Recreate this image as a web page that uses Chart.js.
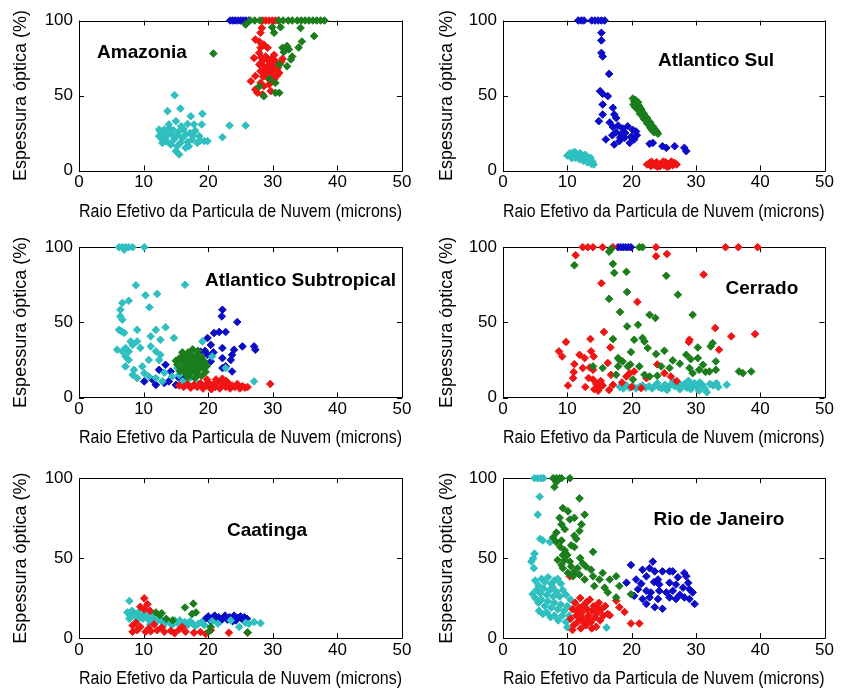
<!DOCTYPE html>
<html><head><meta charset="utf-8">
<script src="https://cdn.jsdelivr.net/npm/chart.js@4/dist/chart.umd.min.js"></script>
<style>
body{margin:0;background:#fff;width:852px;height:693px;position:relative;overflow:hidden}
canvas{position:absolute}
</style>
</head><body>
<canvas id="c0" width="426" height="231" style="left:0;top:0"></canvas>
<canvas id="c1" width="426" height="231" style="left:426px;top:0"></canvas>
<canvas id="c2" width="426" height="231" style="left:0;top:231px"></canvas>
<canvas id="c3" width="426" height="231" style="left:426px;top:231px"></canvas>
<canvas id="c4" width="426" height="231" style="left:0;top:462px"></canvas>
<canvas id="c5" width="426" height="231" style="left:426px;top:462px"></canvas>
<script>
const xTicks = [0, 10, 20, 30, 40, 50];
const yTicks = [0, 50, 100];
const xTitle = 'Raio Efetivo da Particula de Nuvem (microns)';
const yTitle = 'Espessura óptica (%)';
const regions = ['Amazonia', 'Atlantico Sul', 'Atlantico Subtropical', 'Cerrado', 'Caatinga', 'Rio de Janeiro'];

// ---------- Amazonia ----------
const amazoniaBlue = [[23.4,100],[23.8,100],[24.2,100],[24.6,100],[25.0,100],[25.4,100],[25.8,100],[26.3,100]];
const amazoniaGreen = [[26.5,100],[27.2,100],[28.0,100],[30.9,100],[31.6,100],[32.4,100],[33.0,100],[33.8,100],[34.4,100],[35.0,100],[35.6,100],[36.2,100],[36.8,100],[37.4,100],[38.0,100],
 [20.8,78],[25.8,97.3],[29.9,95.5],[31.2,95.5],[34.3,95],[36.4,89.6],[30.2,91.8],[31.5,81.8],[32.2,83],[32.5,80.7],[34,82],[34.5,86],[31.7,79],[33,76],[32.8,74],[32.2,69.5],[31,70.7],[30.4,58.4],[31,51.8],[27.9,56],[28.6,49.5],[30.4,51.8],[29.5,61]];
const amazoniaRed = [[28.4,100],[28.9,100],[29.4,100],[29.9,100],[30.4,100],[30.9,100],
 [28.3,95],[28.1,91.8],[27.3,87.3],[27.9,86],[28.6,84],[28.1,81.8],[29.2,81.8],[27.9,78.4],[27.1,75],[28.9,76],[29.9,75],[28.4,73],[29.4,73],[30.4,73],[31,70.7],[27.9,70.7],[28.6,69.5],[29.7,68.4],[30.4,67.3],[28.1,66.2],[28.9,65],[29.9,64],[31,65],[29.2,61.8],[30.2,60.7],[27.3,63],[26.6,59.5],[28.1,58.4],[29.4,57.3],[27.3,54],[27.6,51.8],[28.4,50.7],[29.7,52.9],[28.6,56.2],[29.3,70],[30,71],[29.6,66],[30.8,68.5],[28.5,62.5],[29.8,59],[31.3,72.5],[30.6,63],[29,67.5],[28.2,75.5],[30.2,77],[31.5,74.5]];
const amazoniaCyan = [[14.8,50.2],[13.7,39.6],[15.7,41.3],[17.3,36.2],[19.1,37.8],[19,30.7],[17.8,30.7],[16.8,31],[23.3,30],[25.8,30],[22.2,22.2],[19.9,19.6],[12.6,26.2],[13.2,27.3],[13.9,30.7],[15,32.9],[12.4,22.9],[13.4,21.8],[14.4,24],[15.5,26.2],[16,21.8],[16.5,24],[17.5,20.7],[18.6,22.9],[19.4,19.6],[12.9,18.4],[14.2,17.3],[15.2,16.2],[16.5,15.1],[15.5,10.7],[15,12.9],[17,16.2],[18.3,18.4],[13.7,24],[14.7,20.7],[15.7,18.4],[12.4,27.3],[13,24.5],[14,28],[15.2,23.5],[16.2,27.5],[17.2,25],[18,26.5],[14.6,26.8],[13.5,19.5],[16.8,19],[18.8,20],[12.8,21],[15.8,29.5],[17.6,23]];

// ---------- Atlantico Sul ----------
const atlSulBlue = [[11.7,100],[12.2,100],[12.6,100],[13.8,100],[14.3,100],[14.8,100],[15.3,100],[15.8,100],
 [15.3,91.8],[15.3,86.7],[15.3,78.4],[15.5,76],[16.5,64.4],[15.1,52.9],[15.5,51.1],[16.3,49.6],[15.5,44],[15.5,37.3],[14.9,32.9],[17.1,41.8],[17.3,37.3],[17.6,35],[16.6,32],[17.1,29],[17.9,30],[18.6,28],[19.4,29.5],[20.2,27],[20.7,26],[16,20.7],[17.3,17.3],[18.1,19.6],[18.9,21.8],[19.7,18.4],[20.4,20.7],[18.4,24],[17.6,25.5],[19,25],[19.9,22.5],[18.2,22],[17,23.5],[20.8,23.5],[22.8,17.8],[23.3,18.4],[24.8,16.2],[25.4,15.1],[26.7,16.2],[28.2,15.1],[28.5,12.9]];
const atlSulGreen = [[20.2,48],[20.4,46],[20.6,47],[20.3,44],[20.7,44.5],[21,45.5],[20.8,42],[21.2,43],[21.5,41],[21.1,40],[21.6,39.5],[21.9,38],[21.4,37.5],[22.1,36],[22.4,35],[21.9,34.5],[22.6,33],[22.9,32],[22.4,31.5],[23.1,30],[23.4,29],[22.9,28.5],[23.6,27.5],[23.9,26],[23.5,25.5],[24.1,24.5],[20.5,42.5],[21.3,38],[22.2,33.5],[23.2,27]];
const atlSulRed = [[22.4,4],[22.8,5],[23.0,3],[23.3,4.5],[23.6,3.5],[23.9,5.5],[24.2,4],[24.4,2.8],[24.7,5],[25.0,3.5],[25.3,5.5],[25.6,4],[25.8,2.8],[26.1,5],[26.4,3.5],[26.7,5],[27.0,4],[23.1,5.8],[24.9,6],[26.2,6],[24.0,2.5],[25.5,2.5]];
const atlSulCyan = [[10.0,10],[10.4,11.5],[10.6,9.5],[10.9,12],[11.0,10.5],[11.3,8.5],[11.5,11],[11.7,9.5],[11.9,7.5],[12.1,10],[12.3,8.5],[12.5,6.5],[12.7,9],[12.9,7.5],[13.1,5.5],[13.3,8],[13.5,6.5],[13.7,4.5],[13.9,6],[14.1,4],[11.2,12.2],[12.0,11.5],[12.8,10.5],[13.6,8.5],[10.7,8.2]];

// ---------- Atlantico Subtropical ----------
const atlSubBlue = [[22.2,58.4],[22.1,54],[24.5,50.2],[20.9,42.9],[21.7,43.6],[22.7,43.6],[19.9,39.6],[20.4,35],[22.2,32.9],[24,31.8],[25.3,34],[27.1,34],[27.3,31.8],[22.2,26.2],[23.7,28.4],[23.5,25],[22.2,19.6],[22.7,20.7],[23.7,17.3],[20.4,24],[19.9,28.4],[13.4,21.8],[14.2,17.3],[12.4,18.4],[11.4,11.8],[10.1,10.7],[11.9,8.4],[13.2,9.6],[13.9,10.7],[15,8.4],[15.5,12.9],[16.5,14],[19.5,31],[20.8,30],[18.8,30.5]];
const atlSubGreen = [[15.2,22],[15.5,26],[15.8,19],[16,24],[16.2,28],[16.3,17],[16.5,21],[16.7,25],[16.9,30],[17,15],[17.2,19],[17.3,23],[17.5,27],[17.6,32],[17.8,17],[18,21],[18.1,25],[18.3,29],[18.5,15],[18.6,19],[18.8,23],[19,27],[19.2,20],[19.4,24],[19.6,17],[16,30],[17.1,29],[18.4,31],[15.6,17.5],[16.8,13.5],[17.9,13],[19,14.5],[19.8,21],[15,24.5],[16.6,18],[17.7,26],[18.7,26.5],[17.4,17.5],[16.4,26.5],[18.2,18]];
const atlSubRed = [[15.5,8],[16.2,7],[16.8,9],[17.3,6.5],[17.8,8.5],[18.3,7],[18.8,9.5],[19.2,6],[19.6,8],[20,10],[20.3,6.5],[20.7,8.5],[21.1,7],[21.5,10.5],[21.8,6],[22.2,12.5],[22.3,8.5],[22.7,7],[23,10],[23.4,6],[23.7,8],[24.1,7],[24.5,9],[24.9,6],[25.3,7.5],[25.7,6.5],[26.1,7],[29.6,9],[20.5,5.5],[21.2,12],[19.8,12],[22.8,11]];
const atlSubCyan = [[6.2,100],[6.7,100],[7.2,100],[7.7,100],[8.3,100],[10.1,100],[7,98.4],[16.4,75],[8.8,74.7],[10.3,68],[12.1,68.9],[10.9,60],[6.7,62.9],[7.7,64.4],[6.4,58.4],[6.4,54],[6.7,51.8],[6.2,45],[6.6,44],[7,43],[9,45],[11.1,40.7],[11.9,45],[12.6,38.4],[13.4,46.7],[14.7,39.6],[8,37.3],[8.3,35],[9,37.3],[7.2,32.9],[7.7,30.7],[6.7,30.7],[5.9,31.8],[7.2,27.3],[7.7,25],[11.1,34],[11.9,30.7],[12.6,28.4],[10.8,25],[12.4,25],[7.2,20.7],[8.5,18.4],[8.3,15.1],[9,12.9],[10.1,16.2],[10.8,14],[11.9,12.9],[12.9,10.7],[14.4,14],[16,10.7],[16.5,8.4],[15.5,15.1],[19.1,37.3],[20.6,27.3],[22.7,19.6],[27.1,10.7],[15.2,19.6],[9.8,20.7],[18.3,9.6],[9.5,33],[13.2,16.5],[17.2,13]];

// ---------- Cerrado ----------
const cerradoBlue = [[17.9,100],[18.3,100],[18.7,100],[19.1,100],[19.5,100],[19.9,100]];
const cerradoGreen = [[16.8,99],[16.5,97],[21.2,100],[21.7,100],[11.1,88],[17.1,88.9],[17.3,82.9],[19.2,83.6],[25.4,81],[19.3,70.2],[16.5,65.6],[27.2,68.4],[18.2,56.9],[22.8,55],[23.7,52.9],[29.5,55],[21,48.4],[19.3,47.3],[17.1,38.9],[20.4,38.4],[21.7,39.6],[22,37.3],[22.5,32.9],[23.8,28.9],[25.1,31.1],[19.9,30.2],[26.4,24.7],[28.5,28.4],[30.3,33.3],[32.6,36.2],[32.3,34],[30.3,26.2],[31.1,21.8],[33.1,24],[18.1,25],[17.9,26.2],[18.6,24],[17.9,20.7],[19.4,20.7],[21.2,20.7],[15.5,19.6],[14,20.7],[17.6,15.1],[22,15.1],[22.8,14],[24.6,20.7],[25.9,19.6],[29,19.6],[29.5,16.2],[30.5,18.4],[32.1,17.3],[33.1,18.4],[36.7,17.3],[37.3,16.2],[38.6,17.3],[19.8,22],[27.5,22.5],[29.2,25.5],[31.5,17],[20.2,12],[24,14.5]];
const cerradoRed = [[12.4,100],[13.2,100],[14,100],[15.5,100],[17.1,100],[23.8,100],[34.6,100],[36.6,100],[39.6,100],[11.3,94.7],[23.8,94],[25.5,95.5],[31.2,81.8],[15.3,76],[20.9,63.6],[15.7,43.6],[33,46.2],[35.5,40.7],[39.2,42.2],[9.8,36.9],[13.6,38.9],[8.7,30.7],[9.2,27.3],[11.9,28.4],[12.7,26.2],[13.7,30.7],[14.1,27.3],[11.1,22.2],[12.4,19.6],[13.5,20],[14,18.4],[16.7,33.3],[16.3,23],[11,16.9],[10.9,12.9],[10.1,8],[14,12],[14.5,9],[15,6.5],[14.8,4.5],[15.5,8],[14.2,5.5],[15.2,11],[16.8,15.1],[17.1,8.4],[16.5,5],[19.2,14],[19.7,16.2],[20.4,17.3],[22.3,12.9],[25.1,16.2],[26.1,14],[29,38.4],[28.9,37],[33.6,31.8],[21.5,6.2],[13.3,13],[12.8,7],[18.5,10],[20,7],[24,22],[27,11]];
const cerradoCyan = [[18.2,7],[18.7,6],[19.2,8],[19.7,6.5],[20.2,7.5],[20.7,6],[21.2,7],[21.7,8],[22.2,6.5],[22.7,7.5],[23.2,6],[23.7,8],[24.2,7],[24.7,6],[25.2,8.5],[25.7,7],[26.2,9],[26.7,7.5],[27.2,10],[27.7,8],[28.2,9],[28.6,6.5],[29,10.5],[29.4,8],[29.8,9.5],[30.2,7],[30.6,10],[31,8.5],[31.4,6],[31.7,3.5],[32.2,9],[32.7,8],[33.2,9.5],[33.5,7],[34.8,8.5],[27.5,5.5],[26.5,11],[28.8,11],[30.5,4.5],[24,9.5],[25.5,5],[29.2,5.5]];

// ---------- Caatinga ----------
const caatingaBlue = [[19.6,12],[20,13.5],[20.3,11],[20.7,12.5],[21,14],[21.3,11.5],[21.6,13],[22,11],[22.3,12.5],[22.6,14],[23,11.5],[23.3,13],[23.6,12],[24,14],[24.3,11],[24.6,12.5],[25,13.5],[25.3,11.5],[25.6,13],[26,12],[21.8,10.5],[23.8,10.5]];
const caatingaGreen = [[16.4,19.1],[17.7,21.5],[17.5,15],[18.1,16],[11.9,16],[12.5,14.5],[13.5,12],[20.4,6.9],[20.1,4],[26.1,3.5],[14.5,11],[12.8,15.5]];
const caatingaRed = [[10.1,24.8],[10.6,21.1],[10.1,18],[9.5,19.5],[11,17],[8.3,3.9],[9,4.9],[10.3,3.9],[11.1,4.2],[12.1,4.9],[13.2,3.9],[14.2,4.5],[15.5,5.3],[16.5,3.9],[17.8,3.3],[18.8,3.8],[20.4,4.9],[23.2,3.3],[26.1,3.3],[8.3,7.9],[9.5,7],[12.8,6.5],[16,6.9],[11.6,8.5],[14.8,3],[19.6,2.5],[8.8,9.5],[10.8,6]];
const caatingaCyan = [[7.8,23.2],[7.5,16],[7.9,14],[8.2,17],[8.6,15],[8.9,13],[9.2,16],[9.6,14],[9.9,12],[10.2,15],[10.5,13],[10.9,11],[11.2,14],[11.6,12],[12,10],[12.4,12.5],[12.8,11],[13.2,9],[13.6,11.5],[14,10],[14.4,8],[14.8,11],[15.2,9.5],[15.6,11],[16,8.5],[16.4,10],[16.8,8],[17.2,10.5],[17.6,9],[18,7.5],[18.5,9],[19,10],[19.4,8],[20.6,10.5],[21.5,9],[23.5,11],[24.8,6.9],[26.3,8.9],[27.1,10],[28.1,9.3],[25.8,9.5],[7.8,12],[9,11],[11,8.5],[13,7.5]];

// ---------- Rio de Janeiro ----------
const rioBlue = [[19.9,45.7],[23.3,47.8],[21.7,42.7],[22.8,43.7],[23.6,41.7],[24.8,41.7],[25.9,41.7],[26.4,41.7],[28.2,40.7],[28.5,38.6],[19.2,34.6],[20.7,36.6],[22.3,38.6],[24.1,36.6],[24.3,33.5],[25.9,34.6],[26.9,33.5],[21,30.5],[22.3,29.5],[23,28.5],[24.3,29.5],[25.4,28.5],[26.4,29.5],[28,31.5],[29,30.5],[29.5,28.5],[20.4,26.4],[21.7,24.4],[22.8,25.4],[24.1,24.4],[25.9,25.4],[26.9,24.4],[28.2,25.4],[29,24.4],[29.8,21.3],[22.3,21.3],[23.6,19.3],[24.8,18.3],[23.5,35],[27.5,27],[21.5,34],[28.8,34.5],[27.2,38]];
const rioGreen = [[7.8,100],[8.3,100],[8.8,100],[9.1,100],[10.4,100],[8.3,97.6],[8,94.5],[11.9,87.4],[9.3,81.3],[10.1,79.3],[12.7,77.2],[8.8,75.2],[10.4,74.2],[11.1,75.2],[9.1,71.1],[9.6,68.1],[8.3,66],[12.2,71.1],[11.9,67],[11.1,64],[11.4,62],[7.8,63],[8.3,60],[9.1,61],[10.6,58],[11.1,56.9],[9.6,54.9],[9.3,51.8],[9.6,48.8],[8.5,48.8],[9.1,45.7],[9.3,43.7],[10.4,47.8],[10.6,44.7],[11.6,43.7],[12.4,46.7],[12.9,44.7],[13.7,42.7],[10.1,40.7],[10.9,38.6],[11.9,39.6],[14,38.6],[15,36.6],[15.5,40.7],[12.7,36.6],[14,53.9],[16.6,36.6],[17.6,38.6],[18.1,32.5],[15.8,31.5],[16.3,28.5],[14.2,32.5],[17.6,25.4],[19.9,27.4],[10,52],[8.9,57],[12,50],[11,41]];
const rioRed = [[10.4,38.6],[10.5,12],[10.8,18],[11,8],[11.2,22],[11.4,14],[11.6,10],[11.8,19],[12,25],[12.1,6],[12.3,16],[12.5,12],[12.7,21],[12.9,8],[13.1,18],[13.3,14],[13.5,24],[13.7,10],[13.9,17],[14.1,20],[14.3,13],[14.5,7],[14.7,16],[14.9,22],[15.1,11],[15.3,18],[15.6,14],[15.9,20],[16.3,15],[16.6,14.2],[17.6,23.4],[18.1,19.3],[18.9,16.3],[19.9,9.1],[21.2,9.1],[11.9,12.5],[12.6,9.5],[13.8,6],[10.8,5],[12.2,19],[13.4,11],[14.6,19],[11.5,16.5],[13,22.5]];
const rioCyan = [[4.9,100],[5.4,100],[5.9,100],[6.3,100],[5.7,88.4],[5.4,77.2],[5.8,62],[6.2,61],[7.3,60],[4.9,52.8],[4.7,49.8],[4.4,47.8],[4.8,43.7],[5,36],[5.5,33],[6,37],[6.5,35],[7,38],[7.5,34],[8,36],[8.5,37],[9,34],[5.2,30],[5.8,28],[6.3,31],[6.8,27],[7.3,30],[7.8,26],[8.3,29],[8.8,26],[9.3,30],[9.8,27],[5,25],[5.5,22],[6,24],[6.5,20],[7,23],[7.5,19],[8,22],[8.5,18],[9,21],[9.5,17],[10,20],[5.6,17],[6.2,15],[6.8,16],[7.4,13],[8,14],[8.6,11],[9.2,14],[9.8,10],[10.3,14],[10,6.7],[16.1,6.5],[4.6,27.5],[10.5,24],[7.7,32]];

// ---------- styling / layout (kept apart from data) ----------
const FONT = '"Liberation Sans", Arial, sans-serif';
const COLORS = {green: '#1b7d1b', red: '#f01414', cyan: '#2fbfbf', blue: '#0c0cc8'};

const panels = [
  {id: 'c0', region: 0, s: {green: amazoniaGreen, red: amazoniaRed, cyan: amazoniaCyan, blue: amazoniaBlue}, left: 79, pr: 24, top: 20.5, xH: 60.5, xtp: 8.5, lab: [2.8, 78.7]},
  {id: 'c1', region: 1, s: {green: atlSulGreen, red: atlSulRed, cyan: atlSulCyan, blue: atlSulBlue}, left: 77, pr: 27.5, top: 20.5, xH: 60.5, xtp: 8.5, lab: [24.1, 72.9]},
  {id: 'c2', region: 2, s: {green: atlSubGreen, red: atlSubRed, cyan: atlSubCyan, blue: atlSubBlue}, left: 79, pr: 24, top: 16, xH: 64.5, xtp: 12.9, lab: [19.5, 78]},
  {id: 'c3', region: 3, s: {green: cerradoGreen, red: cerradoRed, cyan: cerradoCyan, blue: cerradoBlue}, left: 77, pr: 27.5, top: 16, xH: 64.5, xtp: 12.9, lab: [34.6, 72.5]},
  {id: 'c4', region: 4, s: {green: caatingaGreen, red: caatingaRed, cyan: caatingaCyan, blue: caatingaBlue}, left: 79, pr: 24, top: 12.5, xH: 55, xtp: 3.5, lab: [22.9, 67.3]},
  {id: 'c5', region: 5, s: {green: rioGreen, red: rioRed, cyan: rioCyan, blue: rioBlue}, left: 77, pr: 27.5, top: 12.5, xH: 55, xtp: 3.5, lab: [23.4, 74.2]}
];

const framePlugin = {
  id: 'frame',
  beforeDatasetsDraw(chart, args, opts) {
    const {ctx, chartArea: a, scales: {x, y}} = chart;
    ctx.save();
    ctx.strokeStyle = '#000';
    ctx.lineWidth = 1;
    ctx.beginPath();
    ctx.rect(Math.round(a.left) + 0.5, Math.round(a.top) + 0.5, Math.round(a.right - a.left), Math.round(a.bottom - a.top));
    const tl = 5;
    xTicks.forEach(v => {
      const px = Math.round(x.getPixelForValue(v)) + 0.5;
      ctx.moveTo(px, a.bottom); ctx.lineTo(px, a.bottom - tl);
      ctx.moveTo(px, a.top); ctx.lineTo(px, a.top + tl);
    });
    yTicks.forEach(v => {
      const py = Math.round(y.getPixelForValue(v)) + 0.5;
      ctx.moveTo(a.left, py); ctx.lineTo(a.left + tl, py);
      ctx.moveTo(a.right, py); ctx.lineTo(a.right - tl, py);
    });
    ctx.stroke();
    ctx.fillStyle = '#000';
    ctx.font = 'bold 19px ' + FONT;
    ctx.textAlign = 'left';
    ctx.textBaseline = 'middle';
    ctx.fillText(opts.text, x.getPixelForValue(opts.at[0]), y.getPixelForValue(opts.at[1]));
    ctx.restore();
  }
};

function makeChart(p) {
  const order = ['green', 'red', 'cyan', 'blue'];
  const datasets = order.map(k => ({
    label: k,
    data: p.s[k].map(([x, y]) => ({x, y})),
    backgroundColor: COLORS[k],
    borderColor: COLORS[k],
    borderWidth: 1,
    pointStyle: 'rectRot',
    pointRadius: 3.8,
    pointHoverRadius: 3.8,
    clip: false
  }));
  new Chart(document.getElementById(p.id), {
    type: 'scatter',
    data: {datasets},
    options: {
      responsive: false,
      animation: false,
      events: [],
      layout: {padding: {top: p.top, right: p.pr, left: 0, bottom: 0}},
      plugins: {
        legend: {display: false},
        tooltip: {enabled: false},
        frame: {text: regions[p.region], at: p.lab}
      },
      scales: {
        x: {
          type: 'linear', min: 0, max: 50,
          afterBuildTicks: s => { s.ticks = xTicks.map(v => ({value: v})); },
          afterFit: s => { s.height = p.xH; },
          grid: {display: false, drawTicks: false, tickLength: 0},
          border: {display: false},
          ticks: {font: {family: FONT, size: 17}, color: '#000', padding: 2, maxRotation: 0, autoSkip: false},
          title: {display: true, text: xTitle, font: {family: FONT, size: 18}, color: '#000', padding: {top: 0, bottom: p.xtp}}
        },
        y: {
          type: 'linear', min: 0, max: 100,
          afterBuildTicks: s => { s.ticks = yTicks.map(v => ({value: v})); },
          afterFit: s => { s.width = p.left; },
          grid: {display: false, drawTicks: false, tickLength: 0},
          border: {display: false},
          ticks: {font: {family: FONT, size: 17}, color: '#000', padding: 6, autoSkip: false},
          title: {display: true, text: yTitle, font: {family: FONT, size: 18}, color: '#000', padding: {top: 10, bottom: 0}}
        }
      }
    },
    plugins: [framePlugin]
  });
}
panels.forEach(makeChart);
</script>
</body></html>
